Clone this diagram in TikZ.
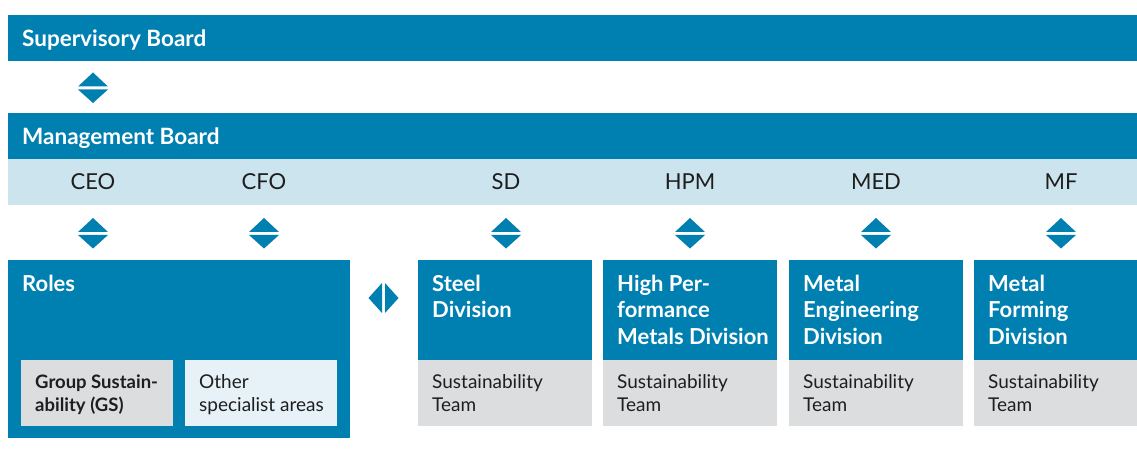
\documentclass[tikz,border=0pt]{standalone}
\usepackage{fontspec}
\setmainfont{Lato}
\definecolor{orgblue}{RGB}{0,127,177}
\definecolor{rowblue}{RGB}{204,228,238}
\definecolor{teamgray}{RGB}{220,221,223}
\definecolor{paleblue}{RGB}{230,241,248}
\definecolor{darktext}{RGB}{30,30,30}
\tikzset{
  updown/.pic={
    \fill[orgblue] (-15,-1.5) -- (0,-15.5) -- (15,-1.5) -- cycle;
    \fill[orgblue] (-15,1.5) -- (0,15) -- (15,1.5) -- cycle;
  },
  leftright/.pic={
    \fill[orgblue] (-1.5,-15) -- (-15,0) -- (-1.5,15) -- cycle;
    \fill[orgblue] (1.5,-15) -- (15,0) -- (1.5,15) -- cycle;
  }
}
\begin{document}
\begin{tikzpicture}[
  x=1pt, y=-1pt,
  bar/.style={fill=orgblue, anchor=north west, inner sep=0pt, minimum width=1129pt, minimum height=46pt},
  bartext/.style={anchor=base west, inner sep=0pt, text=white, font=\fontsize{22.5}{26}\selectfont\bfseries},
  rolelabel/.style={anchor=base, inner sep=0pt, text=darktext, font=\fontsize{22}{24}\selectfont},
  divhead/.style={fill=orgblue, anchor=north west, inner sep=0pt, minimum width=174pt, minimum height=100pt},
  teambox/.style={fill=teamgray, anchor=north west, inner sep=0pt, minimum width=174pt, minimum height=66pt},
  headtext/.style={anchor=base west, inner sep=0pt, align=left, text=white, font=\fontsize{22}{26.5}\selectfont\bfseries},
  teamtext/.style={anchor=base west, inner sep=0pt, align=left, text=darktext, font=\fontsize{19}{23.5}\selectfont}
]
\useasboundingbox (0,0) rectangle (1137,470);

% Boards
\node[bar] (sup) at (8,15) {};
\node[bartext] (suptext) at (22,47) {Supervisory Board};
\pic at (93,88) {updown};
\node[bar] (mgmt) at (8,113) {};
\node[bartext] (mgmttext) at (22,145) {Management Board};

% Members row
\node[bar, fill=rowblue] (members) at (8,159) {};
\node[rolelabel] (ceo) at (93,190) {CEO};
\node[rolelabel] (cfo) at (264,190) {CFO};
\node[rolelabel] (sd) at (506,190) {SD};
\node[rolelabel] (hpm) at (690,190) {HPM};
\node[rolelabel] (med) at (876,190) {MED};
\node[rolelabel] (mf) at (1061,190) {MF};

% Arrows below the members
\foreach \ax in {93,264,506,690,876,1061}
  \pic at (\ax,233.5) {updown};
\pic at (383.5,298) {leftright};

% Roles (base anchor = last line)
\node[fill=orgblue, anchor=north west, inner sep=0pt, minimum width=342pt, minimum height=178pt] (roles) at (8,260) {};
\node[headtext] (rolestext) at (22,291) {Roles};
\node[fill=teamgray, anchor=north west, inner sep=0pt, minimum width=152pt, minimum height=66pt] (gs) at (21,360) {};
\node[teamtext, font=\fontsize{18.5}{23.5}\selectfont\bfseries] (gstext) at (35,411.5) {Group Sustain-\\ability (GS)};
\node[fill=paleblue, anchor=north west, inner sep=0pt, minimum width=152pt, minimum height=66pt] (other) at (185,360) {};
\node[teamtext] (othertext) at (199,411.5) {Other\\specialist areas};

% Divisions
\node[divhead] (steel) at (418,260) {};
\node[teambox] (steelteam) at (418,360) {};
\node[headtext] (steeltext) at (432,317.5) {Steel\\Division};
\node[teamtext] (steelteamtext) at (432,411.5) {Sustainability\\Team};

\node[divhead] (hpmd) at (603,260) {};
\node[teambox] (hpmteam) at (603,360) {};
\node[headtext] (hpmtext) at (617,344) {High Per-\\formance\\Metals Division};
\node[teamtext] (hpmteamtext) at (617,411.5) {Sustainability\\Team};

\node[divhead] (medd) at (789,260) {};
\node[teambox] (medteam) at (789,360) {};
\node[headtext] (medtext) at (803,344) {Metal\\Engineering\\Division};
\node[teamtext] (medteamtext) at (803,411.5) {Sustainability\\Team};

\node[divhead] (mfd) at (974,260) {};
\node[teambox] (mfteam) at (974,360) {};
\node[headtext] (mftext) at (988,344) {Metal\\Forming\\Division};
\node[teamtext] (mfteamtext) at (988,411.5) {Sustainability\\Team};

\end{tikzpicture}
\end{document}
